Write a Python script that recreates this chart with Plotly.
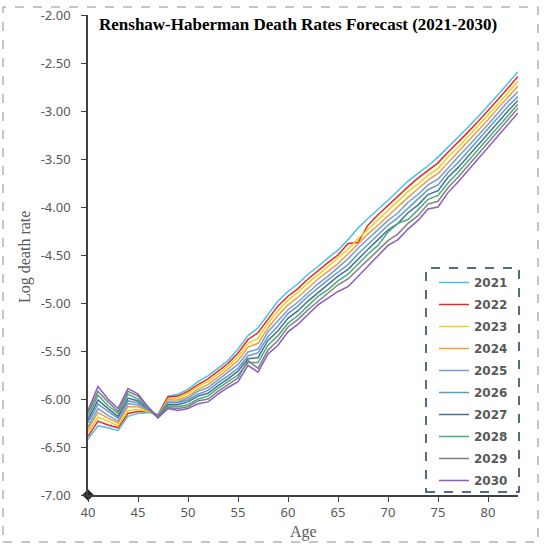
import plotly.graph_objs as go

# ages on the x axis
ages = list(range(40, 84))

# forecast log death rates, one list per forecast year (ages 40..83)
rate_2021 = [-6.42, -6.28, -6.30, -6.33, -6.18, -6.15, -6.14, -6.16, -5.97, -5.95,
             -5.90, -5.82, -5.76, -5.68, -5.60, -5.48, -5.34, -5.26, -5.12, -4.98,
             -4.88, -4.80, -4.70, -4.62, -4.53, -4.45, -4.34, -4.22, -4.12, -4.03,
             -3.93, -3.83, -3.73, -3.65, -3.57, -3.48, -3.38, -3.28, -3.17, -3.06,
             -2.95, -2.83, -2.71, -2.59]
rate_2022 = [-6.39, -6.23, -6.27, -6.30, -6.15, -6.13, -6.13, -6.17, -5.98, -5.97,
             -5.92, -5.85, -5.79, -5.71, -5.63, -5.52, -5.38, -5.31, -5.17, -5.03,
             -4.93, -4.85, -4.75, -4.66, -4.58, -4.50, -4.38, -4.37, -4.19, -4.08,
             -3.98, -3.89, -3.79, -3.70, -3.62, -3.54, -3.43, -3.33, -3.22, -3.11,
             -3.00, -2.88, -2.76, -2.64]
rate_2023 = [-6.35, -6.19, -6.23, -6.28, -6.12, -6.11, -6.13, -6.18, -6.00, -5.99,
             -5.94, -5.87, -5.82, -5.74, -5.66, -5.56, -5.42, -5.37, -5.21, -5.08,
             -4.97, -4.89, -4.79, -4.71, -4.62, -4.54, -4.44, -4.33, -4.23, -4.13,
             -4.03, -3.94, -3.84, -3.76, -3.67, -3.60, -3.48, -3.38, -3.27, -3.16,
             -3.05, -2.93, -2.81, -2.69]
rate_2024 = [-6.32, -6.14, -6.20, -6.25, -6.08, -6.08, -6.12, -6.17, -6.01, -6.01,
             -5.97, -5.90, -5.85, -5.77, -5.69, -5.60, -5.46, -5.42, -5.26, -5.13,
             -5.02, -4.94, -4.84, -4.75, -4.67, -4.59, -4.49, -4.38, -4.28, -4.19,
             -4.09, -4.00, -3.90, -3.81, -3.72, -3.65, -3.54, -3.43, -3.32, -3.21,
             -3.09, -2.97, -2.85, -2.74]
rate_2025 = [-6.29, -6.10, -6.17, -6.23, -6.05, -6.06, -6.11, -6.18, -6.03, -6.03,
             -5.99, -5.92, -5.88, -5.80, -5.72, -5.64, -5.51, -5.48, -5.30, -5.18,
             -5.07, -4.99, -4.89, -4.80, -4.72, -4.63, -4.54, -4.43, -4.33, -4.24,
             -4.14, -4.06, -3.95, -3.87, -3.77, -3.71, -3.59, -3.48, -3.37, -3.26,
             -3.14, -3.02, -2.90, -2.80]
rate_2026 = [-6.25, -6.05, -6.13, -6.20, -6.02, -6.04, -6.11, -6.19, -6.04, -6.04,
             -6.01, -5.95, -5.91, -5.83, -5.76, -5.68, -5.55, -5.52, -5.35, -5.24,
             -5.11, -5.03, -4.93, -4.84, -4.76, -4.68, -4.60, -4.49, -4.39, -4.29,
             -4.19, -4.11, -4.01, -3.92, -3.82, -3.77, -3.64, -3.54, -3.42, -3.30,
             -3.19, -3.07, -2.95, -2.85]
rate_2027 = [-6.22, -6.01, -6.10, -6.18, -5.99, -6.02, -6.10, -6.18, -6.06, -6.06,
             -6.03, -5.97, -5.94, -5.86, -5.79, -5.71, -5.58, -5.57, -5.39, -5.29,
             -5.16, -5.08, -4.98, -4.89, -4.81, -4.72, -4.65, -4.54, -4.44, -4.34,
             -4.24, -4.17, -4.06, -3.98, -3.87, -3.83, -3.69, -3.59, -3.47, -3.35,
             -3.24, -3.12, -3.00, -2.89]
rate_2028 = [-6.19, -5.96, -6.07, -6.15, -5.95, -6.00, -6.10, -6.19, -6.07, -6.08,
             -6.06, -6.00, -5.97, -5.89, -5.82, -5.75, -5.62, -5.62, -5.44, -5.34,
             -5.21, -5.13, -5.03, -4.93, -4.86, -4.77, -4.70, -4.59, -4.49, -4.40,
             -4.26, -4.17, -4.13, -4.03, -3.92, -3.88, -3.75, -3.64, -3.52, -3.40,
             -3.28, -3.16, -3.04, -2.93]
rate_2029 = [-6.15, -5.92, -6.03, -6.13, -5.92, -5.97, -6.09, -6.20, -6.09, -6.10,
             -6.08, -6.02, -6.00, -5.92, -5.85, -5.78, -5.60, -5.68, -5.49, -5.39,
             -5.25, -5.17, -5.07, -4.98, -4.90, -4.81, -4.75, -4.65, -4.55, -4.45,
             -4.35, -4.28, -4.17, -4.09, -3.97, -3.94, -3.80, -3.69, -3.57, -3.45,
             -3.33, -3.21, -3.09, -2.97]
rate_2030 = [-6.12, -5.87, -6.00, -6.10, -5.89, -5.95, -6.08, -6.19, -6.10, -6.12,
             -6.10, -6.05, -6.03, -5.95, -5.88, -5.82, -5.65, -5.72, -5.53, -5.44,
             -5.30, -5.22, -5.12, -5.02, -4.95, -4.88, -4.83, -4.72, -4.61, -4.50,
             -4.40, -4.34, -4.23, -4.14, -4.02, -4.00, -3.85, -3.74, -3.62, -3.50,
             -3.38, -3.26, -3.14, -3.02]

years = ['2021', '2022', '2023', '2024', '2025', '2026', '2027', '2028', '2029', '2030']
series = [rate_2021, rate_2022, rate_2023, rate_2024, rate_2025,
          rate_2026, rate_2027, rate_2028, rate_2029, rate_2030]

# axis ticks (hyphen minus, as in the original)
y_ticks = [-7.0, -6.5, -6.0, -5.5, -5.0, -4.5, -4.0, -3.5, -3.0, -2.5, -2.0]
y_tick_text = ['-7.00', '-6.50', '-6.00', '-5.50', '-5.00', '-4.50',
               '-4.00', '-3.50', '-3.00', '-2.50', '-2.00']

# stray point drawn at the axis origin in the original chart
origin_age = [40]
origin_rate = [-7.0]

colors = ['#4BC0E6', '#E8262A', '#F2CE1E', '#E9A03A', '#7B98DA',
          '#5B9CC2', '#4D6C95', '#46AD7C', '#808080', '#8C5CC0']

GRAY = '#595959'

fig = go.Figure()
for year, values, color in zip(years, series, colors):
    fig.add_trace(go.Scatter(
        x=ages,
        y=values,
        mode='lines',
        name=year,
        legendgroup=year,
        line=dict(color=color, width=1.5)))

fig.add_trace(go.Scatter(
    x=origin_age,
    y=origin_rate,
    mode='markers',
    marker=dict(symbol='diamond', size=9, color='#262626'),
    showlegend=False,
    cliponaxis=False,
    hoverinfo='skip'))

# plot area: x 88..518 px, y 15..495 px
def px_x(p):
    return (p - 88) / 430

def px_y(p):
    return (495 - p) / 480

fig.update_layout(
    width=544,
    height=550,
    margin=dict(l=88, r=26, t=15, b=55),
    paper_bgcolor='white',
    plot_bgcolor='white',
    showlegend=True,
    legend=dict(
        x=px_x(434), y=px_y(268),
        xanchor='left', yanchor='top',
        bgcolor='rgba(0,0,0,0)',
        borderwidth=0,
        tracegroupgap=3,
        font=dict(family='DejaVu Sans', size=12, color=GRAY, weight='bold')),
    xaxis=dict(
        range=[40, 83],
        tickmode='linear', tick0=40, dtick=5,
        ticks='outside', ticklen=5, tickcolor='#404040',
        showline=True, linecolor='#404040', linewidth=1.5,
        showgrid=False, zeroline=False, automargin=False,
        tickfont=dict(family='Noto Sans', size=13, color=GRAY)),
    yaxis=dict(
        range=[-7, -2],
        tickmode='array', tickvals=y_ticks, ticktext=y_tick_text,
        ticks='outside', ticklen=5, tickcolor='#404040',
        ticklabelstandoff=8,
        showline=True, linecolor='#404040', linewidth=1.5,
        showgrid=False, zeroline=False, automargin=False,
        tickfont=dict(family='Noto Sans', size=13, color=GRAY)),
    shapes=[
        # dashed outer chart border
        dict(type='rect', xref='paper', yref='paper',
             x0=px_x(3), x1=px_x(538), y0=px_y(542), y1=px_y(7),
             line=dict(color='#8C8C8C', width=1, dash='dash')),
        # dashed legend frame
        dict(type='rect', xref='paper', yref='paper',
             x0=px_x(426), x1=px_x(519), y0=px_y(492), y1=px_y(268),
             line=dict(color='#1F3864', width=1.5, dash='dash')),
    ],
    annotations=[
        dict(text='<b>Renshaw-Haberman Death Rates Forecast (2021-2030)</b>',
             xref='paper', yref='paper', x=px_x(97), y=px_y(24),
             xanchor='left', yanchor='middle', showarrow=False,
             font=dict(family='Liberation Serif', size=17, color='black')),
        dict(text='Log death rate', textangle=-90,
             xref='paper', yref='paper', x=px_x(25), y=px_y(257),
             xanchor='center', yanchor='middle', showarrow=False,
             font=dict(family='Liberation Serif', size=16, color=GRAY)),
        dict(text='Age',
             xref='paper', yref='paper', x=px_x(303), y=px_y(532),
             xanchor='center', yanchor='middle', showarrow=False,
             font=dict(family='Liberation Serif', size=16, color=GRAY)),
    ])

# drop the page's default body margin so the figure fills the window
fig.write_html("out.html",
               config={'displayModeBar': False},
               post_script="document.body.style.margin='0';document.body.style.overflow='hidden';")
